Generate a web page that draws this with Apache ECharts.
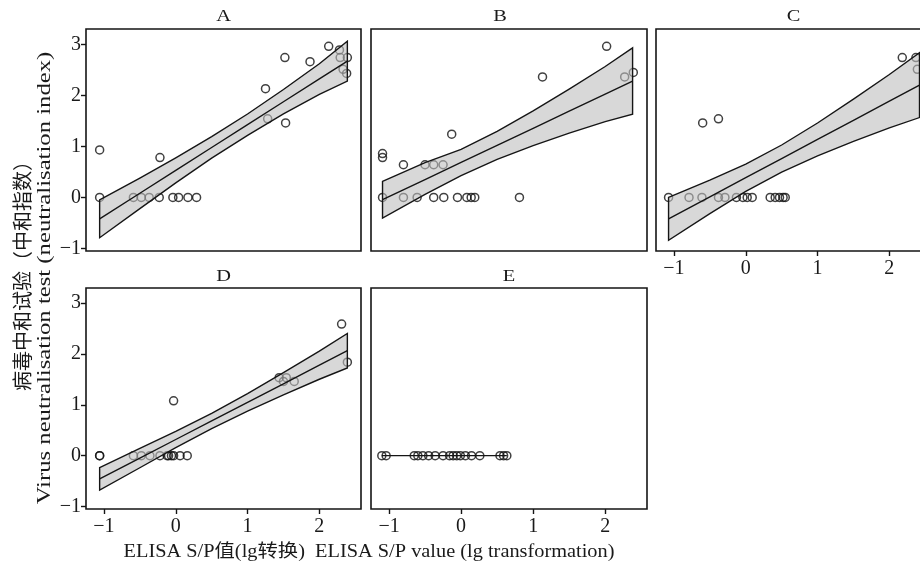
<!DOCTYPE html>
<html><head><meta charset="utf-8">
<script src="https://cdn.jsdelivr.net/npm/echarts@6/dist/echarts.min.js"></script>
<style>html,body{margin:0;padding:0;background:#fff}#c{width:920px;height:567px}</style>
</head><body><div id="c"></div>
<script>
// ---- data ----
const panelNames = ['A', 'B', 'C', 'D', 'E'];
const xTickValues = [-1, 0, 1, 2];
const yTickValues = [-1, 0, 1, 2, 3];

const xA = [-1.06,-1.06,-0.59,-0.48,-0.37,-0.23,-0.22,-0.04,0.04,0.17,0.29,1.25,1.28,1.52,1.53,1.87,2.13,2.28,2.29,2.39,2.33,2.38];
const yA = [0.93,0,0,0,0,0,0.78,0,0,0,0,2.13,1.54,2.74,1.46,2.66,2.96,2.89,2.74,2.74,2.51,2.43];
const bandXA = [-1.06,-0.5,0,0.5,1.0,1.5,2.0,2.39];
const fitA   = [-0.42,0.082,0.53,0.978,1.426,1.874,2.322,2.672];
const lowA   = [-0.79,-0.22,0.285,0.77,1.215,1.635,2.02,2.28];
const highA  = [-0.05,0.38,0.775,1.19,1.635,2.115,2.62,3.06];

const xB = [-1.09,-1.09,-1.09,-0.80,-0.80,-0.61,-0.50,-0.38,-0.25,-0.38,-0.24,-0.13,-0.05,0.08,0.14,0.19,0.81,1.13,2.02,2.27,2.39];
const yB = [0.86,0.78,0,0.64,0,0,0.64,0.64,0.64,0,0,1.24,0,0,0,0,0,2.36,2.96,2.36,2.45];
const bandXB = [-1.09,-0.5,0,0.5,1.0,1.5,2.0,2.38];
const fitB   = [-0.045,0.35,0.685,1.02,1.355,1.69,2.025,2.28];
const lowB   = [-0.405,0.06,0.429,0.744,1.015,1.26,1.485,1.63];
const highB  = [0.315,0.68,0.941,1.296,1.695,2.12,2.565,2.93];

const xC = [-1.075,-0.79,-0.61,-0.60,-0.38,-0.38,-0.29,-0.13,-0.04,0.02,0.09,0.34,0.41,0.47,0.52,0.55,2.18,2.37,2.39];
const yC = [0,0,0,1.46,1.54,0,0,0,0,0,0,0,0,0,0,0,2.74,2.74,2.51];
const bandXC = [-1.075,-0.5,0,0.5,1.0,1.5,2.0,2.42];
const fitC   = [-0.42,0.011,0.386,0.761,1.136,1.511,1.886,2.2];
const lowC   = [-0.84,-0.316,0.118,0.495,0.814,1.097,1.364,1.565];
const highC  = [0.0,0.338,0.654,1.027,1.458,1.925,2.408,2.835];

const xD = [-1.06,-1.06,-0.59,-0.48,-0.36,-0.22,-0.12,-0.10,-0.06,-0.03,-0.03,0.06,0.16,1.44,1.50,1.54,1.65,2.31,2.39];
const yD = [0,0,0,0,0,0,0,0,0,0,1.08,0,0,1.535,1.46,1.535,1.46,2.59,1.84];
const bandXD = [-1.06,-0.5,0,0.5,1.0,1.5,2.0,2.39];
const fitD   = [-0.457,-0.048,0.318,0.684,1.049,1.415,1.78,2.065];
const lowD   = [-0.677,-0.238,0.16,0.534,0.875,1.196,1.504,1.725];
const highD  = [-0.237,0.142,0.476,0.834,1.223,1.634,2.056,2.405];

const xE = [-1.10,-1.04,-0.65,-0.60,-0.53,-0.45,-0.36,-0.25,-0.16,-0.11,-0.06,-0.01,0.06,0.145,0.26,0.54,0.59,0.635];
const yE = [0,0,0,0,0,0,0,0,0,0,0,0,0,0,0,0,0,0];
const fitXE = [-1.10, 0.635];
const fitE  = [0, 0];

const yTitleZh = '病毒中和试验（中和指数）';
const yTitleEn = 'Virus neutralisation test (neutralisation index)';
const xTitle = 'ELISA S/P值(lg转换)  ELISA S/P value (lg transformation)';

// ---- layout ----
const SERIF = '"Liberation Serif", "Noto Sans CJK SC", serif';
const grids = [
  {left: 86,  top: 29,  width: 275, height: 222},
  {left: 371, top: 29,  width: 276, height: 222},
  {left: 656, top: 29,  width: 275, height: 222},
  {left: 86,  top: 288, width: 275, height: 221},
  {left: 371, top: 288, width: 276, height: 221}
];
const showX = [false, false, true, true, true];
const showY = [true, false, false, true, false];
const titlePos = [[223.5, 17], [500, 17], [793.5, 17], [223.5, 277], [509, 277]];

const minusFmt = v => String(v).replace('-', '\u2212');

const option = {
  animation: false,
  backgroundColor: '#fff',
  grid: grids.map(g => Object.assign({show: true, borderColor: '#151515', borderWidth: 1.6,
    backgroundColor: 'transparent', containLabel: false, outerBoundsMode: 'none'}, g)),
  xAxis: grids.map((g, i) => ({
    type: 'value', gridIndex: i, min: -1.25, max: 2.58,
    axisLine: {show: false, onZero: false}, splitLine: {show: false},
    axisTick: {show: showX[i], customValues: xTickValues, length: 5, lineStyle: {color: '#151515', width: 1.4}},
    axisLabel: {show: showX[i], customValues: xTickValues, formatter: minusFmt, margin: 8,
      fontFamily: SERIF, fontSize: 20, color: '#1a1a1a'}
  })),
  yAxis: grids.map((g, i) => ({
    type: 'value', gridIndex: i, min: -1.05, max: 3.3,
    axisLine: {show: false, onZero: false}, splitLine: {show: false},
    axisTick: {show: showY[i], customValues: yTickValues, length: 5, lineStyle: {color: '#151515', width: 1.4}},
    axisLabel: {show: showY[i], customValues: yTickValues, formatter: minusFmt, margin: 5,
      fontFamily: SERIF, fontSize: 20, color: '#1a1a1a'}
  })),
  graphic: [],
  series: []
};

titlePos.forEach((p, i) => {
  option.graphic.push({type: 'text', x: p[0], y: p[1], scaleX: 1.2, silent: true,
    style: {text: panelNames[i], align: 'center', verticalAlign: 'middle', fontFamily: SERIF, fontSize: 17, fill: '#1a1a1a'}});
});
option.graphic.push({type: 'text', x: 22, y: 271, rotation: Math.PI / 2, silent: true,
  style: {text: yTitleZh, align: 'center', verticalAlign: 'middle', fontFamily: '"Noto Sans CJK SC"', fontSize: 20, fill: '#1a1a1a'}});
option.graphic.push({type: 'text', x: 45, y: 278, rotation: Math.PI / 2, scaleX: 1.3, silent: true,
  style: {text: yTitleEn, align: 'center', verticalAlign: 'middle', fontFamily: SERIF, fontSize: 19, fill: '#1a1a1a'}});
option.graphic.push({type: 'text', x: 369, y: 552, scaleX: 1.13, silent: true,
  style: {text: xTitle, align: 'center', verticalAlign: 'middle', fontFamily: SERIF, fontSize: 18, fill: '#1a1a1a'}});

function scatterSeries(i, xs, ys) {
  return {type: 'scatter', xAxisIndex: i, yAxisIndex: i, z: 2, silent: true,
    data: xs.map((x, k) => [x, ys[k]]), symbol: 'circle', symbolSize: 8,
    itemStyle: {color: 'rgba(0,0,0,0)', borderColor: '#111', borderWidth: 1.5}};
}
function bandSeries(i, bx, lo, hi) {
  return {type: 'custom', xAxisIndex: i, yAxisIndex: i, z: 3, silent: true,
    data: bx.map((x, k) => [x, lo[k], hi[k]]),
    encode: {x: 0, y: [1, 2]},
    renderItem: function (params, api) {
      if (params.dataIndex !== 0) return null;
      const pts = [];
      for (let k = 0; k < bx.length; k++) pts.push(api.coord([bx[k], hi[k]]));
      for (let k = bx.length - 1; k >= 0; k--) pts.push(api.coord([bx[k], lo[k]]));
      return {type: 'polygon', shape: {points: pts},
        style: {fill: 'rgba(190,190,190,0.6)', stroke: '#151515', lineWidth: 1.4}};
    }};
}
function fitSeries(i, bx, fit) {
  return {type: 'line', xAxisIndex: i, yAxisIndex: i, z: 4, silent: true,
    data: bx.map((x, k) => [x, fit[k]]), symbol: 'none',
    lineStyle: {color: '#151515', width: 1.4}};
}

option.series.push(scatterSeries(0, xA, yA), bandSeries(0, bandXA, lowA, highA), fitSeries(0, bandXA, fitA));
option.series.push(scatterSeries(1, xB, yB), bandSeries(1, bandXB, lowB, highB), fitSeries(1, bandXB, fitB));
option.series.push(scatterSeries(2, xC, yC), bandSeries(2, bandXC, lowC, highC), fitSeries(2, bandXC, fitC));
option.series.push(scatterSeries(3, xD, yD), bandSeries(3, bandXD, lowD, highD), fitSeries(3, bandXD, fitD));
option.series.push(scatterSeries(4, xE, yE), fitSeries(4, fitXE, fitE));

const chart = echarts.init(document.getElementById('c'), null, {renderer: 'canvas'});
chart.setOption(option);
</script>
</body></html>
